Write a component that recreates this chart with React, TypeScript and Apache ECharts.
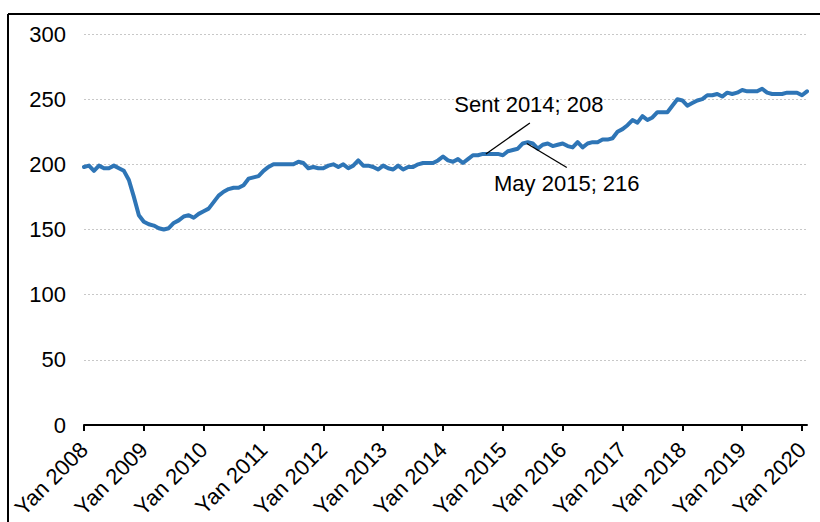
import React, { useEffect, useRef } from "react";
import * as echarts from "echarts";

const monthNames = ["Yan", "Fev", "Mar", "Apr", "May", "İyn", "İyl", "Avq", "Sent", "Okt", "Noy", "Dek"];
const startYear = 2008;
const values: number[] = [
  198, 199, 195, 199, 197, 197, 199, 197, 195, 188, 175, 161,
  156, 154, 153, 151, 150, 151, 155, 157, 160, 161, 159, 162,
  164, 166, 171, 176, 179, 181, 182, 182, 184, 189, 190, 191,
  195, 198, 200, 200, 200, 200, 200, 202, 201, 197, 198, 197,
  197, 199, 200, 198, 200, 197, 199, 203, 199, 199, 198, 196,
  199, 197, 196, 199, 196, 198, 198, 200, 201, 201, 201, 203,
  206, 203, 202, 204, 201, 204, 207, 207, 208, 208, 208, 208,
  207, 210, 211, 212, 216, 217, 216, 212, 215, 216, 214, 215,
  216, 214, 213, 217, 213, 216, 217, 217, 219, 219, 220, 225,
  227, 230, 234, 232, 237, 234, 236, 240, 240, 240, 245, 250,
  249, 245, 247, 249, 250, 253, 253, 254, 252, 255, 254, 255,
  257, 256, 256, 256, 258, 255, 254, 254, 254, 255, 255, 255,
  253, 256,
];
const categories: string[] = values.map((_, i) => `${monthNames[i % 12]} ${startYear + Math.floor(i / 12)}`);
const yTicks = { min: 0, max: 300, interval: 50 };
const annotations = [
  { index: 80, text: "Sent 2014; 208", lineTo: [44, -31], textAt: [43, -49], start: [3, 0] },
  { index: 88, text: "May 2015; 216", lineTo: [40, 24], textAt: [40, 40], start: [4, 0] },
];

const FONT = "'Liberation Sans', Arial, sans-serif";
const FS = 22;

export default function App() {
  const ref = useRef<HTMLDivElement>(null);
  useEffect(() => {
    document.body.style.margin = "0";
    const chart = echarts.init(ref.current!, null, { renderer: "svg" });
    chart.setOption({
      animation: false,
      backgroundColor: "#fff",
      textStyle: { fontFamily: FONT },
      grid: { left: 84, right: 13, top: 34, bottom: 97, containLabel: false },
      xAxis: {
        type: "category",
        data: categories,
        boundaryGap: false,
        axisLine: { lineStyle: { color: "#000", width: 2 } },
        axisTick: { show: true, interval: 11, length: 6, lineStyle: { color: "#000", width: 2 } },
        axisLabel: {
          interval: 11,
          rotate: 45,
          margin: 21,
          fontSize: FS,
          color: "#000",
          fontFamily: FONT,
        },
        splitLine: { show: false },
      },
      yAxis: {
        type: "value",
        min: yTicks.min,
        max: yTicks.max,
        interval: yTicks.interval,
        axisLine: { show: false },
        axisTick: { show: false },
        axisLabel: { fontSize: FS, color: "#000", margin: 18, fontFamily: FONT },
        splitLine: { lineStyle: { color: "#c8c8c8", width: 1, type: [2, 2] } },
      },
      series: [
        {
          type: "line",
          data: values,
          symbol: "none",
          smooth: false,
          lineStyle: { color: "#2E75B6", width: 4, join: "round", cap: "round" },
          z: 3,
        },
      ],
    });

    const elements: any[] = [
      { type: "line", shape: { x1: 8, y1: 14, x2: 820, y2: 14 }, style: { stroke: "#000", lineWidth: 2 }, silent: true },
      { type: "line", shape: { x1: 8, y1: 14, x2: 8, y2: 522 }, style: { stroke: "#000", lineWidth: 2 }, silent: true },
    ];
    annotations.forEach((a) => {
      const p = chart.convertToPixel({ seriesIndex: 0 }, [a.index, values[a.index]]) as number[];
      const sx = p[0] + a.start[0];
      const sy = p[1] + a.start[1];
      elements.push({
        type: "line",
        shape: { x1: sx, y1: sy, x2: sx + a.lineTo[0], y2: sy + a.lineTo[1] },
        style: { stroke: "#000", lineWidth: 1.3 },
        z: 10,
      });
      elements.push({
        type: "text",
        x: sx + a.textAt[0],
        y: sy + a.textAt[1],
        style: {
          text: a.text,
          fontSize: FS,
          fontFamily: FONT,
          fill: "#000",
          align: "center",
          verticalAlign: "middle",
        },
        z: 10,
      });
    });
    chart.setOption({ graphic: elements });
    return () => chart.dispose();
  }, []);
  return <div ref={ref} style={{ width: 820, height: 522 }} />;
}
